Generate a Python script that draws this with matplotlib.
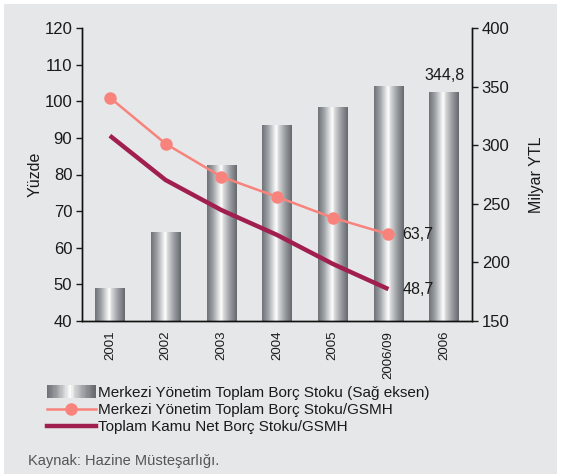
import numpy as np
import matplotlib
matplotlib.use("Agg")
import matplotlib.pyplot as plt
from matplotlib.patches import Rectangle
from matplotlib.legend_handler import HandlerBase
from matplotlib.lines import Line2D
from matplotlib.colors import LinearSegmentedColormap

plt.rcParams['font.family'] = ['Liberation Sans', 'DejaVu Sans']

# Data
years = ["2001", "2002", "2003", "2004", "2005", "2006/09", "2006"]
debt_stock = [178.0, 225.5, 283.0, 317.0, 332.5, 350.5, 344.8]   # Milyar YTL (right axis)
central_gov_ratio = [101.0, 88.4, 79.4, 73.9, 68.2, 63.7]         # Yüzde
public_net_ratio = [90.6, 78.5, 70.3, 63.5, 55.6, 48.7]           # Yüzde

left_ticks = [40, 50, 60, 70, 80, 90, 100, 110, 120]
right_ticks = [150, 200, 250, 300, 350, 400]

BG = "#e6e7e8"
PINK = "#f8837d"
MAROON = "#a11f4e"
TXT = "#1a1a1a"

# cylinder shading for the bars
cyl = LinearSegmentedColormap.from_list(
    "cyl",
    [(0.0, "#6e7176"), (0.2, "#9ea1a5"), (0.4, "#e4e5e6"), (0.48, "#ffffff"),
     (0.56, "#d6d7d9"), (0.78, "#979a9e"), (1.0, "#65686c")])

fig = plt.figure(figsize=(5.61, 4.74), dpi=100, facecolor="white")
fig.patches.append(Rectangle((4 / 561, 0), 553 / 561, 470 / 474,
                             transform=fig.transFigure, facecolor=BG,
                             edgecolor="none", zorder=-10))

ax = fig.add_axes([82 / 561, 1 - 321 / 474, 390 / 561, 293 / 474])
ax2 = ax.twinx()
ax.set_zorder(ax2.get_zorder() + 1)
ax.patch.set_visible(False)
ax2.patch.set_visible(False)

x = np.arange(len(years))

# bars on the right axis with gradient fill
ax2.set_ylim(150, 400)
ax2.set_xlim(-0.5, len(years) - 0.5)
bars = ax2.bar(x, debt_stock, width=0.53, bottom=0, facecolor="none",
               edgecolor="none")
grad = np.linspace(0, 1, 256).reshape(1, -1)
y_floor = ax2.get_ylim()[0]
for b in bars:
    x0, w, h = b.get_x(), b.get_width(), b.get_height()
    ax2.imshow(grad, cmap=cyl, aspect="auto", interpolation="bilinear",
               extent=(x0, x0 + w, y_floor, h), zorder=1)
ax2.set_ylim(150, 400)
ax2.set_xlim(-0.5, len(years) - 0.5)

# lines on the left axis
n = len(central_gov_ratio)
ax.plot(x[:n], public_net_ratio, color=MAROON, lw=3.2, solid_capstyle="butt",
        zorder=3)
ax.plot(x[:n], central_gov_ratio, color=PINK, lw=1.8, marker="o",
        markersize=8, zorder=4)
ax.set_ylim(40, 120)
ax.set_xlim(-0.5, len(years) - 0.5)

# value labels
def fmt(v):
    return f"{v:.1f}".replace(".", ",")

ax.annotate(fmt(central_gov_ratio[-1]), (x[n - 1], central_gov_ratio[-1]),
            xytext=(10, 0), textcoords="offset points", va="center",
            ha="left", fontsize=11.5, color=TXT)
ax.annotate(fmt(public_net_ratio[-1]), (x[n - 1], public_net_ratio[-1]),
            xytext=(10, 0), textcoords="offset points", va="center",
            ha="left", fontsize=11.5, color=TXT)
ax2.annotate(fmt(debt_stock[-1]), (x[-1], debt_stock[-1]),
             xytext=(0, 7), textcoords="offset points", va="bottom",
             ha="center", fontsize=11.5, color=TXT)

# axes styling
for a in (ax, ax2):
    a.spines["top"].set_visible(False)
    for s in ("left", "right", "bottom"):
        a.spines[s].set_linewidth(1.0)
        a.spines[s].set_color("#111111")

ax.set_yticks(left_ticks)
ax.tick_params(axis="y", direction="out", length=4, width=1,
               labelsize=12, colors=TXT, pad=3)
ax2.set_yticks(right_ticks)
ax2.tick_params(axis="y", direction="out", length=4, width=1,
                labelsize=12, colors=TXT, pad=3)

ax.set_xticks(np.arange(-0.5, len(years)), [""] * (len(years) + 1))
ax.set_xticks(x, years, minor=True)
ax.tick_params(axis="x", which="major", direction="out", length=5, width=1)
ax.tick_params(axis="x", which="minor", length=0, labelsize=9.5,
               labelrotation=90, colors=TXT, pad=7)
ax2.set_xticks([])

ax.set_ylabel("Yüzde", fontsize=11.5, color=TXT, labelpad=1)
ax2.set_ylabel("Milyar YTL", fontsize=11.5, color=TXT, labelpad=14)


# legend with a shaded swatch for the bars
class GradientHandler(HandlerBase):
    def create_artists(self, legend, orig_handle, xdescent, ydescent,
                       width, height, fontsize, trans):
        steps = 40
        arts = []
        for i in range(steps):
            c = cyl(i / (steps - 1))
            r = Rectangle((-xdescent + width * i / steps, -ydescent - 1),
                          width / steps + 0.3, height + 2, facecolor=c,
                          edgecolor="none", transform=trans)
            arts.append(r)
        return arts


bar_handle = Rectangle((0, 0), 1, 1)
h2 = Line2D([], [], color=PINK, lw=1.8, marker="o", markersize=8)
h3 = Line2D([], [], color=MAROON, lw=3.2)
leg = fig.legend([bar_handle, h2, h3],
                 ["Merkezi Yönetim Toplam Borç Stoku (Sağ eksen)",
                  "Merkezi Yönetim Toplam Borç Stoku/GSMH",
                  "Toplam Kamu Net Borç Stoku/GSMH"],
                 handler_map={Rectangle: GradientHandler()},
                 loc="upper left", bbox_to_anchor=(47 / 561, 1 - 386 / 474),
                 frameon=False, fontsize=11, handlelength=3.2,
                 handletextpad=0.12, labelspacing=0.2, borderpad=0,
                 borderaxespad=0)
for t in leg.get_texts():
    t.set_color(TXT)

fig.text(28 / 561, 1 - 461 / 474, "Kaynak: Hazine Müsteşarlığı.",
         fontsize=10.5, color="#555555", va="center", ha="left")

fig.savefig("out.png", dpi=100, facecolor=fig.get_facecolor())
